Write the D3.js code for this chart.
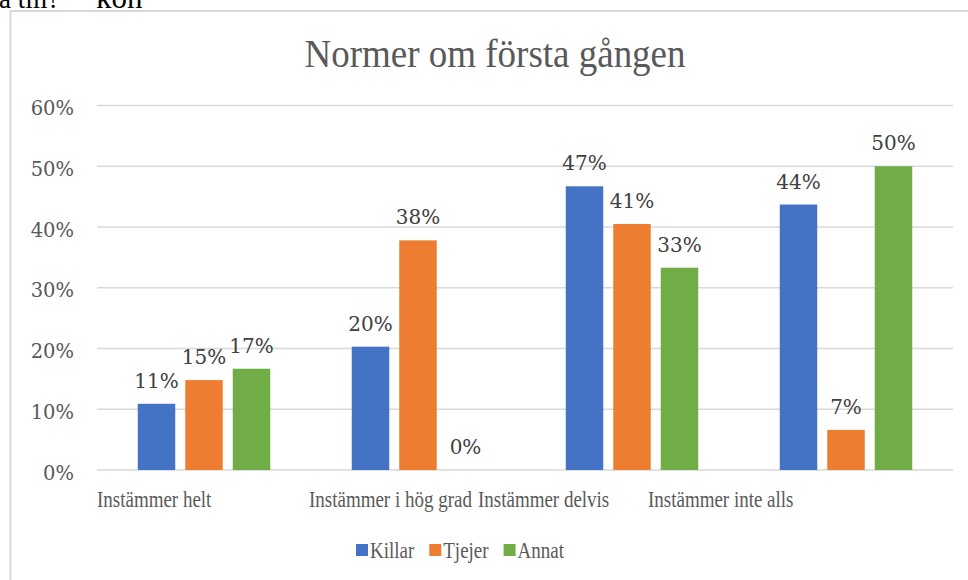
<!DOCTYPE html>
<html>
<head>
<meta charset="utf-8">
<script src="https://cdn.jsdelivr.net/npm/d3@7"></script>
<style>
  html, body { margin: 0; padding: 0; background: #fff; overflow: hidden; }
  svg { display: block; }
</style>
</head>
<body>
<svg id="chart" width="968" height="580"></svg>
<script>
// ---- data ----
const categories = ["Instämmer helt", "Instämmer i hög grad", "Instämmer delvis", "Instämmer inte alls"];
const seriesNames = ["Killar", "Tjejer", "Annat"];
const killar = [0.109, 0.203, 0.467, 0.437];
const tjejer = [0.148, 0.378, 0.405, 0.066];
const annat  = [0.1667, 0.0, 0.333, 0.50];
const yTicks = [0, 0.1, 0.2, 0.3, 0.4, 0.5, 0.6];
const titleText = "Normer om första gången";

// ---- layout / style ----
const colors = ["#4472C4", "#ED7D31", "#70AD47"];
const plot = { left: 97, right: 953, top: 105.5, bottom: 470 };
const catLabelDx = [0, -2, -47, -91]; // label start relative to band start (as in reference)
const serif = "'Liberation Serif', 'Times New Roman', serif";
const numFont = "'DejaVu Serif', serif";

const svg = d3.select("#chart");

// document text fragment above chart (cropped, as in the reference)
svg.append("text").attr("x", -1).attr("y", 8).attr("font-family", serif).attr("font-size", 27)
  .attr("fill", "#000").text("a till?");
svg.append("text").attr("x", 96).attr("y", 8).attr("font-family", serif).attr("font-size", 31)
  .attr("fill", "#000").text("kön");

// chart border
svg.append("rect").attr("x", 10.5).attr("y", 11).attr("width", 1000).attr("height", 1000)
  .attr("fill", "none").attr("stroke", "#d9d9d9").attr("stroke-width", 2);

const series = seriesNames.map((name, i) => ({ name, values: [killar, tjejer, annat][i], color: colors[i] }));

const x0 = d3.scaleBand().domain(categories).range([plot.left, plot.right]).padding(0);
const x1 = d3.scaleBand().domain(seriesNames).range([0, x0.bandwidth()])
  .paddingInner(0.2105).paddingOuter(0.858);
const y = d3.scaleLinear().domain([0, 0.6]).range([plot.bottom, plot.top]);

// gridlines
svg.append("g").selectAll("line").data(yTicks).join("line")
  .attr("x1", plot.left).attr("x2", plot.right)
  .attr("y1", d => y(d)).attr("y2", d => y(d))
  .attr("stroke", "#d9d9d9").attr("stroke-width", 1.5);

// y axis labels
svg.append("g").selectAll("text").data(yTicks).join("text")
  .attr("transform", d => `translate(74,${y(d) + 9.5}) scale(1,1.05)`)
  .attr("text-anchor", "end")
  .attr("font-family", numFont).attr("font-size", 19.5).attr("fill", "#595959")
  .text(d => d3.format(".0%")(d));

// bars
const groups = svg.append("g").selectAll("g").data(series).join("g").attr("fill", d => d.color);
groups.selectAll("rect").data(s => s.values.map((v, i) => ({ v, cat: categories[i], s: s.name })))
  .join("rect")
  .attr("x", d => x0(d.cat) + x1(d.s))
  .attr("width", x1.bandwidth())
  .attr("y", d => y(d.v))
  .attr("height", d => y(0) - y(d.v));

// data labels
svg.append("g").selectAll("text")
  .data(series.flatMap(s => s.values.map((v, i) => ({ v, cat: categories[i], s: s.name }))))
  .join("text")
  .attr("transform", d => `translate(${x0(d.cat) + x1(d.s) + x1.bandwidth() / 2},${y(d.v) - 16}) scale(1,1.05)`)
  .attr("text-anchor", "middle")
  .attr("font-family", numFont).attr("font-size", 20).attr("fill", "#404040")
  .text(d => d3.format(".0%")(d.v));

// category labels
svg.append("g").selectAll("text").data(categories).join("text")
  .attr("transform", (d, i) => `translate(${x0(d) + catLabelDx[i]},506.5) scale(1,1.17)`)
  .attr("font-family", serif).attr("font-size", 19).attr("fill", "#595959")
  .text(d => d);

// title
svg.append("text").attr("transform", "translate(495,66.5) scale(1,1.09)").attr("text-anchor", "middle")
  .attr("font-family", serif).attr("font-size", 37).attr("fill", "#595959")
  .text(titleText);

// legend
const legend = svg.append("g");
let lx = 356;
series.forEach(s => {
  legend.append("rect").attr("x", lx).attr("y", 544).attr("width", 12).attr("height", 12).attr("fill", s.color);
  const t = legend.append("text").attr("transform", `translate(${lx + 14},557.5) scale(1,1.17)`)
    .attr("font-family", serif).attr("font-size", 19).attr("fill", "#595959").text(s.name);
  lx += 14 + t.node().getComputedTextLength() + 15;
});
</script>
</body>
</html>
